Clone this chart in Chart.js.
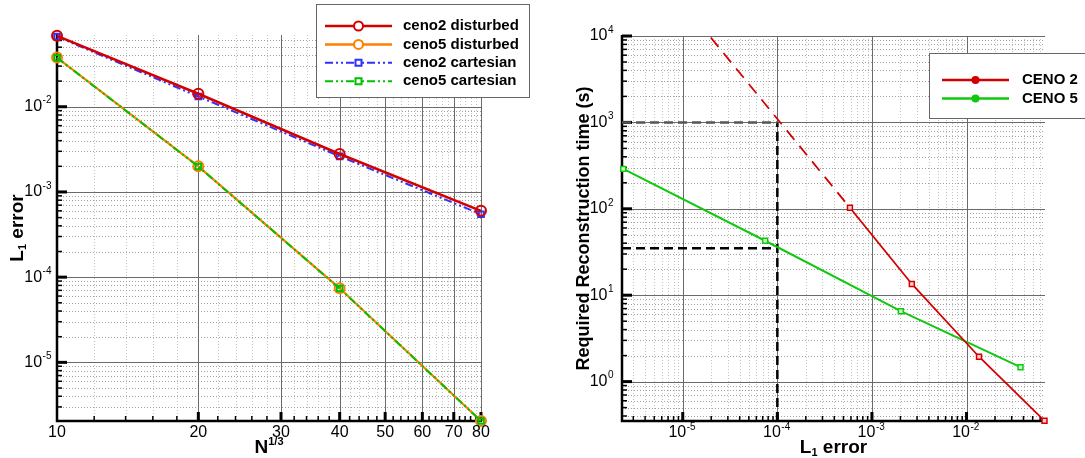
<!DOCTYPE html>
<html>
<head>
<meta charset="utf-8">
<script src="https://cdn.jsdelivr.net/npm/chart.js@4.4.0/dist/chart.umd.min.js"></script>
<style>
  html, body { margin: 0; padding: 0; background: #fff; }
  #wrap { position: relative; width: 1085px; height: 458px; overflow: hidden; }
  #wrap canvas { position: absolute; top: 0; }
  #conv { left: 0; }
  #cost { left: 540px; }
</style>
</head>
<body>
<div id="wrap">
  <canvas id="conv" width="540" height="458"></canvas>
  <canvas id="cost" width="545" height="458"></canvas>
</div>
<script>
// ---- convergence: N^(1/3) vs L1 error ----
const gridN = [10, 20, 40, 80];
const ceno2Disturbed = [0.068, 0.0142, 0.00279, 0.000600];
const ceno5Disturbed = [0.0378, 0.00200, 0.0000740, 0.00000205];
const ceno2Cartesian = [0.0665, 0.0132, 0.00262, 0.000548];
const ceno5Cartesian = [0.0376, 0.00199, 0.0000735, 0.00000205];

// ---- cost: L1 error vs required reconstruction time ----
const ceno2Error = [0.000585, 0.00264, 0.01355, 0.0667];
const ceno2Time = [103, 13.5, 1.94, 0.352];
const ceno5Error = [0.00000235, 0.0000743, 0.00202, 0.0372];
const ceno5Time = [290, 42.7, 6.53, 1.47];
// dashed extension of CENO 2 towards small errors
const ceno2ExtError = [0.0000198, 0.000585];
const ceno2ExtTime = [9600, 103];
// target error and the times read at it (CENO 2, CENO 5)
const targetError = 0.0001;
const targetTimes = [1000, 35];

// axis ranges and tick labels
const convXRange = [10, 80];
const convYRange = [0.00000205, 0.0695];
const costXRange = [0.00000228, 0.0675];
const costYRange = [0.35, 10000];
const convXTicks = [10, 20, 30, 40, 50, 60, 70, 80];
const convYExp = [-2, -3, -4, -5];
const costXExp = [-5, -4, -3, -2];
const costYExp = [0, 1, 2, 3, 4];

const FONT = '"Liberation Sans", Arial, Helvetica, sans-serif';
Chart.defaults.font.family = FONT;

function pts(xs, ys) {
    return xs.map(function (x, i) { return { x: x, y: ys[i] }; });
}

// minor log grid values (2..9 per decade) inside a range
function logMinors(lo, hi) {
    const out = [];
    for (let e = Math.floor(Math.log10(lo)); e <= Math.ceil(Math.log10(hi)); e++) {
        for (let m = 2; m <= 9; m++) {
            const v = m * Math.pow(10, e);
            if (v >= lo * 0.999 && v <= hi * 1.001) out.push(v);
        }
    }
    return out;
}

function crisp(v) { return Math.round(v) + 0.5; }

function line(ctx, x0, y0, x1, y1) {
    ctx.beginPath();
    ctx.moveTo(x0, y0);
    ctx.lineTo(x1, y1);
    ctx.stroke();
}

// "10" with a raised exponent
function powLabel(ctx, exp, x, y, mode) {
    const base = '16px ' + FONT, sup = '10px ' + FONT;
    const s = String(exp);
    ctx.font = base;
    const wb = ctx.measureText('10').width;
    ctx.font = sup;
    const ws = ctx.measureText(s).width;
    const left = mode === 'right' ? x - wb - ws - 1 : x - (wb + ws) / 2 - 1;
    ctx.fillStyle = '#000';
    ctx.textAlign = 'left';
    ctx.textBaseline = 'middle';
    ctx.font = base;
    ctx.fillText('10', left, y);
    ctx.font = sup;
    ctx.fillText(s, left + wb + 0.5, y - 6);
}

// text made of pieces with their own size / vertical shift
function richText(ctx, parts, cx, cy, rotate) {
    ctx.save();
    ctx.translate(cx, cy);
    if (rotate) ctx.rotate(-Math.PI / 2);
    let total = 0;
    parts.forEach(function (p) {
        ctx.font = 'bold ' + p.size + 'px ' + FONT;
        p.w = ctx.measureText(p.text).width;
        total += p.w;
    });
    let x = -total / 2;
    ctx.fillStyle = '#000';
    ctx.textAlign = 'left';
    ctx.textBaseline = 'middle';
    parts.forEach(function (p) {
        ctx.font = 'bold ' + p.size + 'px ' + FONT;
        ctx.fillText(p.text, x, p.dy || 0);
        x += p.w;
    });
    ctx.restore();
}

function marker(ctx, style, x, y, r, color, filled) {
    ctx.setLineDash([]);
    ctx.strokeStyle = color;
    ctx.fillStyle = filled ? color : '#fff';
    ctx.lineWidth = 2;
    ctx.beginPath();
    if (style === 'circle') ctx.arc(x, y, r, 0, Math.PI * 2);
    else ctx.rect(x - r, y - r, r * 2, r * 2);
    ctx.fill();
    ctx.stroke();
}

function drawLegend(ctx, lg) {
    ctx.save();
    ctx.fillStyle = '#fff';
    ctx.fillRect(lg.x0, lg.y0, lg.x1 - lg.x0, lg.y1 - lg.y0);
    ctx.strokeStyle = '#666';
    ctx.lineWidth = 1;
    ctx.strokeRect(crisp(lg.x0), crisp(lg.y0), Math.round(lg.x1 - lg.x0), Math.round(lg.y1 - lg.y0));
    lg.items.forEach(function (it, i) {
        const y = lg.rowY + i * lg.rowGap;
        ctx.strokeStyle = it.color;
        ctx.lineWidth = it.width;
        ctx.setLineDash(it.dash || []);
        line(ctx, lg.lineX0, y, lg.lineX1, y);
        marker(ctx, it.marker, (lg.lineX0 + lg.lineX1) / 2, y, it.r, it.color, it.filled);
        ctx.fillStyle = '#000';
        ctx.font = 'bold ' + lg.fontSize + 'px ' + FONT;
        ctx.textAlign = 'left';
        ctx.textBaseline = 'middle';
        ctx.fillText(it.label, lg.textX, y);
    });
    ctx.restore();
}

// grid, axes, tick marks, labels and legend drawn from the chart scales
function frame(spec) {
    return {
        id: 'frame',
        beforeDatasetsDraw: function (chart) {
            const ctx = chart.ctx, a = chart.chartArea;
            const sx = chart.scales.x, sy = chart.scales.y;
            ctx.save();
            ctx.lineWidth = 1;
            ctx.setLineDash([1, 2]);
            ctx.strokeStyle = '#c2c2c2';
            spec.xMinor.forEach(function (v) {
                const px = crisp(sx.getPixelForValue(v));
                line(ctx, px, a.top, px, a.bottom);
            });
            ctx.strokeStyle = '#a0a0a0';
            spec.yMinor.forEach(function (v) {
                const py = crisp(sy.getPixelForValue(v));
                line(ctx, a.left, py, a.right, py);
            });
            ctx.setLineDash([]);
            ctx.strokeStyle = '#6a6a6a';
            spec.xMajor.forEach(function (v) {
                const px = crisp(sx.getPixelForValue(v));
                line(ctx, px, a.top, px, a.bottom);
            });
            spec.yMajor.forEach(function (v) {
                const py = crisp(sy.getPixelForValue(v));
                line(ctx, a.left, py, a.right, py);
            });

            // inward tick marks
            ctx.strokeStyle = '#000';
            ctx.lineWidth = 1.5;
            spec.xMinor.forEach(function (v) {
                const px = sx.getPixelForValue(v);
                line(ctx, px, a.bottom, px, a.bottom - 5);
            });
            spec.yMinor.forEach(function (v) {
                const py = sy.getPixelForValue(v);
                line(ctx, a.left, py, a.left + 5, py);
            });
            ctx.lineWidth = 3;
            spec.xMajor.forEach(function (v) {
                const px = sx.getPixelForValue(v);
                line(ctx, px, a.bottom, px, a.bottom - 9);
            });
            spec.yMajor.forEach(function (v) {
                const py = sy.getPixelForValue(v);
                line(ctx, a.left, py, a.left + 10, py);
            });

            // left and bottom axis lines
            ctx.lineWidth = 2.5;
            ctx.beginPath();
            ctx.moveTo(a.left, a.top - 1);
            ctx.lineTo(a.left, a.bottom);
            ctx.lineTo(a.right + 1, a.bottom);
            ctx.stroke();
            ctx.restore();
        },
        afterDraw: function (chart) {
            const ctx = chart.ctx, a = chart.chartArea;
            const sx = chart.scales.x, sy = chart.scales.y;
            ctx.save();
            spec.xLabels.forEach(function (t) {
                const px = sx.getPixelForValue(t.value);
                if (t.exp === undefined) {
                    ctx.font = '16px ' + FONT;
                    ctx.fillStyle = '#000';
                    ctx.textAlign = 'center';
                    ctx.textBaseline = 'middle';
                    ctx.fillText(String(t.value), px, a.bottom + 12);
                } else {
                    powLabel(ctx, t.exp, px, a.bottom + 12, 'tick');
                }
            });
            spec.yLabels.forEach(function (t) {
                powLabel(ctx, t.exp, a.left - spec.yLabelGap, sy.getPixelForValue(t.value), 'right');
            });
            richText(ctx, spec.xTitle, (a.left + a.right) / 2, a.bottom + 27, false);
            richText(ctx, spec.yTitle, spec.yTitleX, (a.top + a.bottom) / 2, true);
            drawLegend(ctx, spec.legend);
            ctx.restore();
        }
    };
}

const convSpec = {
    xMajor: convXTicks.slice(1),
    xMinor: [12, 14, 16, 18, 22, 24, 26, 28, 32, 34, 36, 38, 42, 44, 46, 48,
        52, 54, 56, 58, 62, 64, 66, 68, 72, 74, 76, 78],
    yMajor: convYExp.map(function (e) { return Math.pow(10, e); }),
    yMinor: logMinors(convYRange[0], convYRange[1]),
    xLabels: convXTicks.map(function (v) { return { value: v }; }),
    yLabels: convYExp.map(function (e) { return { value: Math.pow(10, e), exp: e }; }),
    yLabelGap: 5,
    xTitle: [{ text: 'N', size: 19 }, { text: '1/3', size: 11, dy: -6 }],
    yTitle: [{ text: 'L', size: 19 }, { text: '1', size: 11, dy: 5 }, { text: ' error', size: 19 }],
    yTitleX: 18,
    legend: {
        x0: 316, x1: 529, y0: 4, y1: 97, rowY: 26, rowGap: 18.4,
        lineX0: 325, lineX1: 392, textX: 403, fontSize: 15,
        items: [
            { label: 'ceno2 disturbed', color: '#d40000', width: 2.5, marker: 'circle', r: 4.5 },
            { label: 'ceno5 disturbed', color: '#ff8000', width: 2.5, marker: 'circle', r: 4.5 },
            { label: 'ceno2 cartesian', color: '#3030ff', width: 2, dash: [8, 3, 2, 3, 2, 3], marker: 'rect', r: 3 },
            { label: 'ceno5 cartesian', color: '#00c000', width: 2, dash: [8, 3, 2, 3, 2, 3], marker: 'rect', r: 3 }
        ]
    }
};

const costSpec = {
    xMajor: costXExp.map(function (e) { return Math.pow(10, e); }),
    xMinor: logMinors(costXRange[0], costXRange[1]),
    yMajor: costYExp.map(function (e) { return Math.pow(10, e); }),
    yMinor: logMinors(costYRange[0], costYRange[1]),
    xLabels: costXExp.map(function (e) { return { value: Math.pow(10, e), exp: e }; }),
    yLabels: costYExp.map(function (e) { return { value: Math.pow(10, e), exp: e }; }),
    yLabelGap: 8,
    xTitle: [{ text: 'L', size: 19 }, { text: '1', size: 11, dy: 5 }, { text: ' error', size: 19 }],
    yTitle: [{ text: 'Required Reconstruction time (s)', size: 18 }],
    yTitleX: 44,
    legend: {
        x0: 389, x1: 560, y0: 53, y1: 118, rowY: 80, rowGap: 18.4,
        lineX0: 402, lineX1: 469, textX: 482, fontSize: 15,
        items: [
            { label: 'CENO 2', color: '#d40000', width: 2.5, marker: 'circle', r: 3, filled: true },
            { label: 'CENO 5', color: '#10c810', width: 2.5, marker: 'circle', r: 3, filled: true }
        ]
    }
};

function logAxis(range) {
    return {
        type: 'logarithmic',
        min: range[0],
        max: range[1],
        grid: { display: false, drawTicks: false },
        ticks: { display: false },
        border: { display: false }
    };
}

function baseOptions(padding, xRange, yRange) {
    return {
        responsive: false,
        animation: false,
        events: [],
        layout: { padding: padding },
        plugins: { legend: { display: false }, tooltip: { enabled: false } },
        scales: { x: logAxis(xRange), y: logAxis(yRange) }
    };
}

const dashDotDot = [8, 3, 2, 3, 2, 3];

new Chart(document.getElementById('conv'), {
    type: 'scatter',
    data: {
        datasets: [
            {
                label: 'ceno2 disturbed', data: pts(gridN, ceno2Disturbed), order: 0,
                showLine: true, clip: false, borderColor: '#d40000', borderWidth: 2.5,
                pointStyle: 'circle', pointRadius: 5, pointBorderWidth: 2,
                pointBackgroundColor: 'rgba(0,0,0,0)', pointBorderColor: '#d40000'
            },
            {
                label: 'ceno5 disturbed', data: pts(gridN, ceno5Disturbed), order: 3,
                showLine: true, clip: false, borderColor: '#ff8000', borderWidth: 2.2,
                pointStyle: 'circle', pointRadius: 5, pointBorderWidth: 2,
                pointBackgroundColor: 'rgba(0,0,0,0)', pointBorderColor: '#ff8000'
            },
            {
                label: 'ceno2 cartesian', data: pts(gridN, ceno2Cartesian), order: 2,
                showLine: true, clip: false, borderColor: '#3030ff', borderWidth: 2, borderDash: dashDotDot,
                pointStyle: 'rect', pointRadius: 4, pointBorderWidth: 2,
                pointBackgroundColor: 'rgba(0,0,0,0)', pointBorderColor: '#3030ff'
            },
            {
                label: 'ceno5 cartesian', data: pts(gridN, ceno5Cartesian), order: 1,
                showLine: true, clip: false, borderColor: '#00c000', borderWidth: 2, borderDash: dashDotDot,
                pointStyle: 'rect', pointRadius: 4, pointBorderWidth: 2,
                pointBackgroundColor: 'rgba(0,0,0,0)', pointBorderColor: '#00c000'
            }
        ]
    },
    options: baseOptions({ left: 57, right: 59, top: 35, bottom: 37 }, convXRange, convYRange),
    plugins: [frame(convSpec)]
});

new Chart(document.getElementById('cost'), {
    type: 'scatter',
    data: {
        datasets: [
            {
                label: 'CENO 2', data: pts(ceno2Error, ceno2Time), order: 0,
                showLine: true, clip: false, borderColor: '#d40000', borderWidth: 1.8,
                pointStyle: 'rect', pointRadius: 3.5, pointBorderWidth: 1.5,
                pointBackgroundColor: '#ffd0d0', pointBorderColor: '#d40000'
            },
            {
                label: 'CENO 5', data: pts(ceno5Error, ceno5Time), order: 1,
                showLine: true, clip: false, borderColor: '#10c810', borderWidth: 2,
                pointStyle: 'rect', pointRadius: 3.5, pointBorderWidth: 1.5,
                pointBackgroundColor: '#c8ffc8', pointBorderColor: '#10c810'
            },
            {
                label: 'CENO 2 extrapolated', data: pts(ceno2ExtError, ceno2ExtTime), order: 2,
                showLine: true, clip: false, borderColor: '#d40000', borderWidth: 1.8,
                borderDash: [12, 8], pointRadius: 0
            },
            {
                label: 'target CENO 2', data: pts([costXRange[0], targetError], [targetTimes[0], targetTimes[0]]), order: 3,
                showLine: true, clip: false, borderColor: '#555', borderWidth: 2.5,
                borderDash: [9, 5], pointRadius: 0
            },
            {
                label: 'target error', data: pts([targetError, targetError], [costYRange[0], targetTimes[0]]), order: 3,
                showLine: true, clip: false, borderColor: '#000', borderWidth: 2.5,
                borderDash: [9, 5], pointRadius: 0
            },
            {
                label: 'target CENO 5', data: pts([costXRange[0], targetError], [targetTimes[1], targetTimes[1]]), order: 3,
                showLine: true, clip: false, borderColor: '#000', borderWidth: 2.5,
                borderDash: [9, 5], pointRadius: 0
            }
        ]
    },
    options: baseOptions({ left: 82, right: 40, top: 36, bottom: 37 }, costXRange, costYRange),
    plugins: [frame(costSpec)]
});
</script>
</body>
</html>
